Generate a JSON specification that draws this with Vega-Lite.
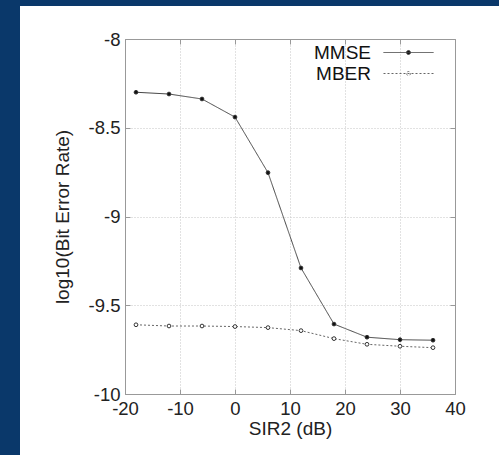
{
  "$schema": "https://vega.github.io/schema/vega-lite/v6.json",
  "usermeta": {"embedOptions": {"actions": false}},
  "background": "white",
  "padding": 0,
  "spacing": 0,
  "config": {"view": {"stroke": null}, "font": "Liberation Sans"},
  "hconcat": [
    {"width": 20, "height": 455, "data": {"values": []}, "mark": "point", "view": {"fill": "#0a386a", "stroke": null}},
    {
      "spacing": 24,
      "vconcat": [
        {"width": 479, "height": 6, "data": {"values": []}, "mark": "point", "view": {"fill": "#0a386a", "stroke": null}},
        {
          "spacing": 0,
          "hconcat": [
            {"width": 33, "height": 10, "data": {"values": []}, "mark": "point"},
            {
              "width": 330,
              "height": 355,
              "data": {"values": [
                {"sir": -18, "ber": -8.30, "series": "MMSE"},
                {"sir": -12, "ber": -8.31, "series": "MMSE"},
                {"sir": -6, "ber": -8.338, "series": "MMSE"},
                {"sir": 0, "ber": -8.44, "series": "MMSE"},
                {"sir": 6, "ber": -8.753, "series": "MMSE"},
                {"sir": 12, "ber": -9.29, "series": "MMSE"},
                {"sir": 18, "ber": -9.606, "series": "MMSE"},
                {"sir": 24, "ber": -9.68, "series": "MMSE"},
                {"sir": 30, "ber": -9.694, "series": "MMSE"},
                {"sir": 36, "ber": -9.697, "series": "MMSE"},
                {"sir": -18, "ber": -9.61, "series": "MBER"},
                {"sir": -12, "ber": -9.617, "series": "MBER"},
                {"sir": -6, "ber": -9.617, "series": "MBER"},
                {"sir": 0, "ber": -9.62, "series": "MBER"},
                {"sir": 6, "ber": -9.626, "series": "MBER"},
                {"sir": 12, "ber": -9.643, "series": "MBER"},
                {"sir": 18, "ber": -9.688, "series": "MBER"},
                {"sir": 24, "ber": -9.72, "series": "MBER"},
                {"sir": 30, "ber": -9.731, "series": "MBER"},
                {"sir": 36, "ber": -9.739, "series": "MBER"}
              ]},
              "resolve": {"axis": {"x": "independent", "y": "independent"}},
              "layer": [
                {
                  "mark": {"type": "line", "strokeWidth": 1},
                  "encoding": {
                    "x": {
                      "field": "sir", "type": "quantitative",
                      "scale": {"domain": [-20, 40], "nice": false},
                      "axis": {
                        "orient": "bottom", "values": [-20, -10, 0, 10, 20, 30, 40],
                        "labelExpr": "datum.value + ''",
                        "grid": true, "gridColor": "#c4c4c4", "gridDash": [1, 2], "gridWidth": 1,
                        "domainColor": "#999999", "tickColor": "#999999", "tickSize": -5,
                        "labelPadding": 10, "labelFlush": false, "labelOverlap": false,
                        "labelFontSize": 18.5, "labelColor": "#222222",
                        "title": "SIR2 (dB)", "titleFontSize": 19, "titleFontWeight": "normal",
                        "titleColor": "#222222", "titlePadding": 2
                      }
                    },
                    "y": {
                      "field": "ber", "type": "quantitative",
                      "scale": {"domain": [-10, -8], "nice": false, "zero": false},
                      "axis": {
                        "orient": "left", "values": [-10, -9.5, -9, -8.5, -8],
                        "labelExpr": "datum.value + ''",
                        "grid": true, "gridColor": "#c4c4c4", "gridDash": [1, 2], "gridWidth": 1,
                        "domainColor": "#999999", "tickColor": "#999999", "tickSize": -5,
                        "labelPadding": 10, "labelFlush": false, "labelOverlap": false,
                        "labelFontSize": 18.5, "labelColor": "#222222",
                        "title": "log10(Bit Error Rate)", "titleFontSize": 19, "titleFontWeight": "normal",
                        "titleColor": "#222222", "titlePadding": 16
                      }
                    },
                    "color": {
                      "field": "series", "type": "nominal",
                      "scale": {"domain": ["MMSE", "MBER"], "range": ["#444444", "#666666"]},
                      "legend": {
                        "title": null, "orient": "none", "legendX": 398, "legendY": 42, "padding": 0,
                        "symbolType": "M-2.5,0L2.5,0M0.2,0A0.2,0.2,0,1,1,-0.2,0A0.2,0.2,0,1,1,0.2,0Z",
                        "symbolSize": 400, "symbolStrokeWidth": 1,
                        "labelAlign": "right", "labelOffset": -48, "labelFontSize": 19, "labelColor": "#111111",
                        "rowPadding": -4
                      }
                    },
                    "strokeDash": {
                      "field": "series", "type": "nominal",
                      "scale": {"domain": ["MMSE", "MBER"], "range": [[1, 0], [2, 2]]},
                      "legend": {
                        "title": null, "orient": "none", "legendX": 398, "legendY": 42, "padding": 0,
                        "symbolType": "M-2.5,0L2.5,0M0.2,0A0.2,0.2,0,1,1,-0.2,0A0.2,0.2,0,1,1,0.2,0Z",
                        "symbolSize": 400, "symbolStrokeWidth": 1,
                        "labelAlign": "right", "labelOffset": -48, "labelFontSize": 19, "labelColor": "#111111",
                        "rowPadding": -4
                      }
                    }
                  }
                },
                {
                  "mark": {"type": "point", "shape": "circle", "size": 14, "strokeWidth": 1, "opacity": 1, "stroke": "#333333"},
                  "encoding": {
                    "x": {
                      "field": "sir", "type": "quantitative",
                      "axis": {
                        "orient": "top", "values": [-20, -10, 0, 10, 20, 30, 40],
                        "labels": false, "grid": false, "domainColor": "#999999",
                        "tickColor": "#999999", "tickSize": -5, "title": null
                      }
                    },
                    "y": {
                      "field": "ber", "type": "quantitative",
                      "axis": {
                        "orient": "right", "values": [-10, -9.5, -9, -8.5, -8],
                        "labels": false, "grid": false, "domainColor": "#999999",
                        "tickColor": "#999999", "tickSize": -5, "title": null
                      }
                    },
                    "fill": {
                      "field": "series", "type": "nominal",
                      "scale": {"domain": ["MMSE", "MBER"], "range": ["#111111", "#ffffff"]},
                      "legend": {
                        "title": null, "orient": "none", "legendX": 398, "legendY": 42, "padding": 0,
                        "symbolType": "M-2.5,0L2.5,0M0.2,0A0.2,0.2,0,1,1,-0.2,0A0.2,0.2,0,1,1,0.2,0Z",
                        "symbolSize": 400, "symbolStrokeWidth": 1,
                        "labelAlign": "right", "labelOffset": -48, "labelFontSize": 19, "labelColor": "#111111",
                        "rowPadding": -4
                      }
                    }
                  }
                }
              ]
            }
          ]
        }
      ]
    }
  ]
}
